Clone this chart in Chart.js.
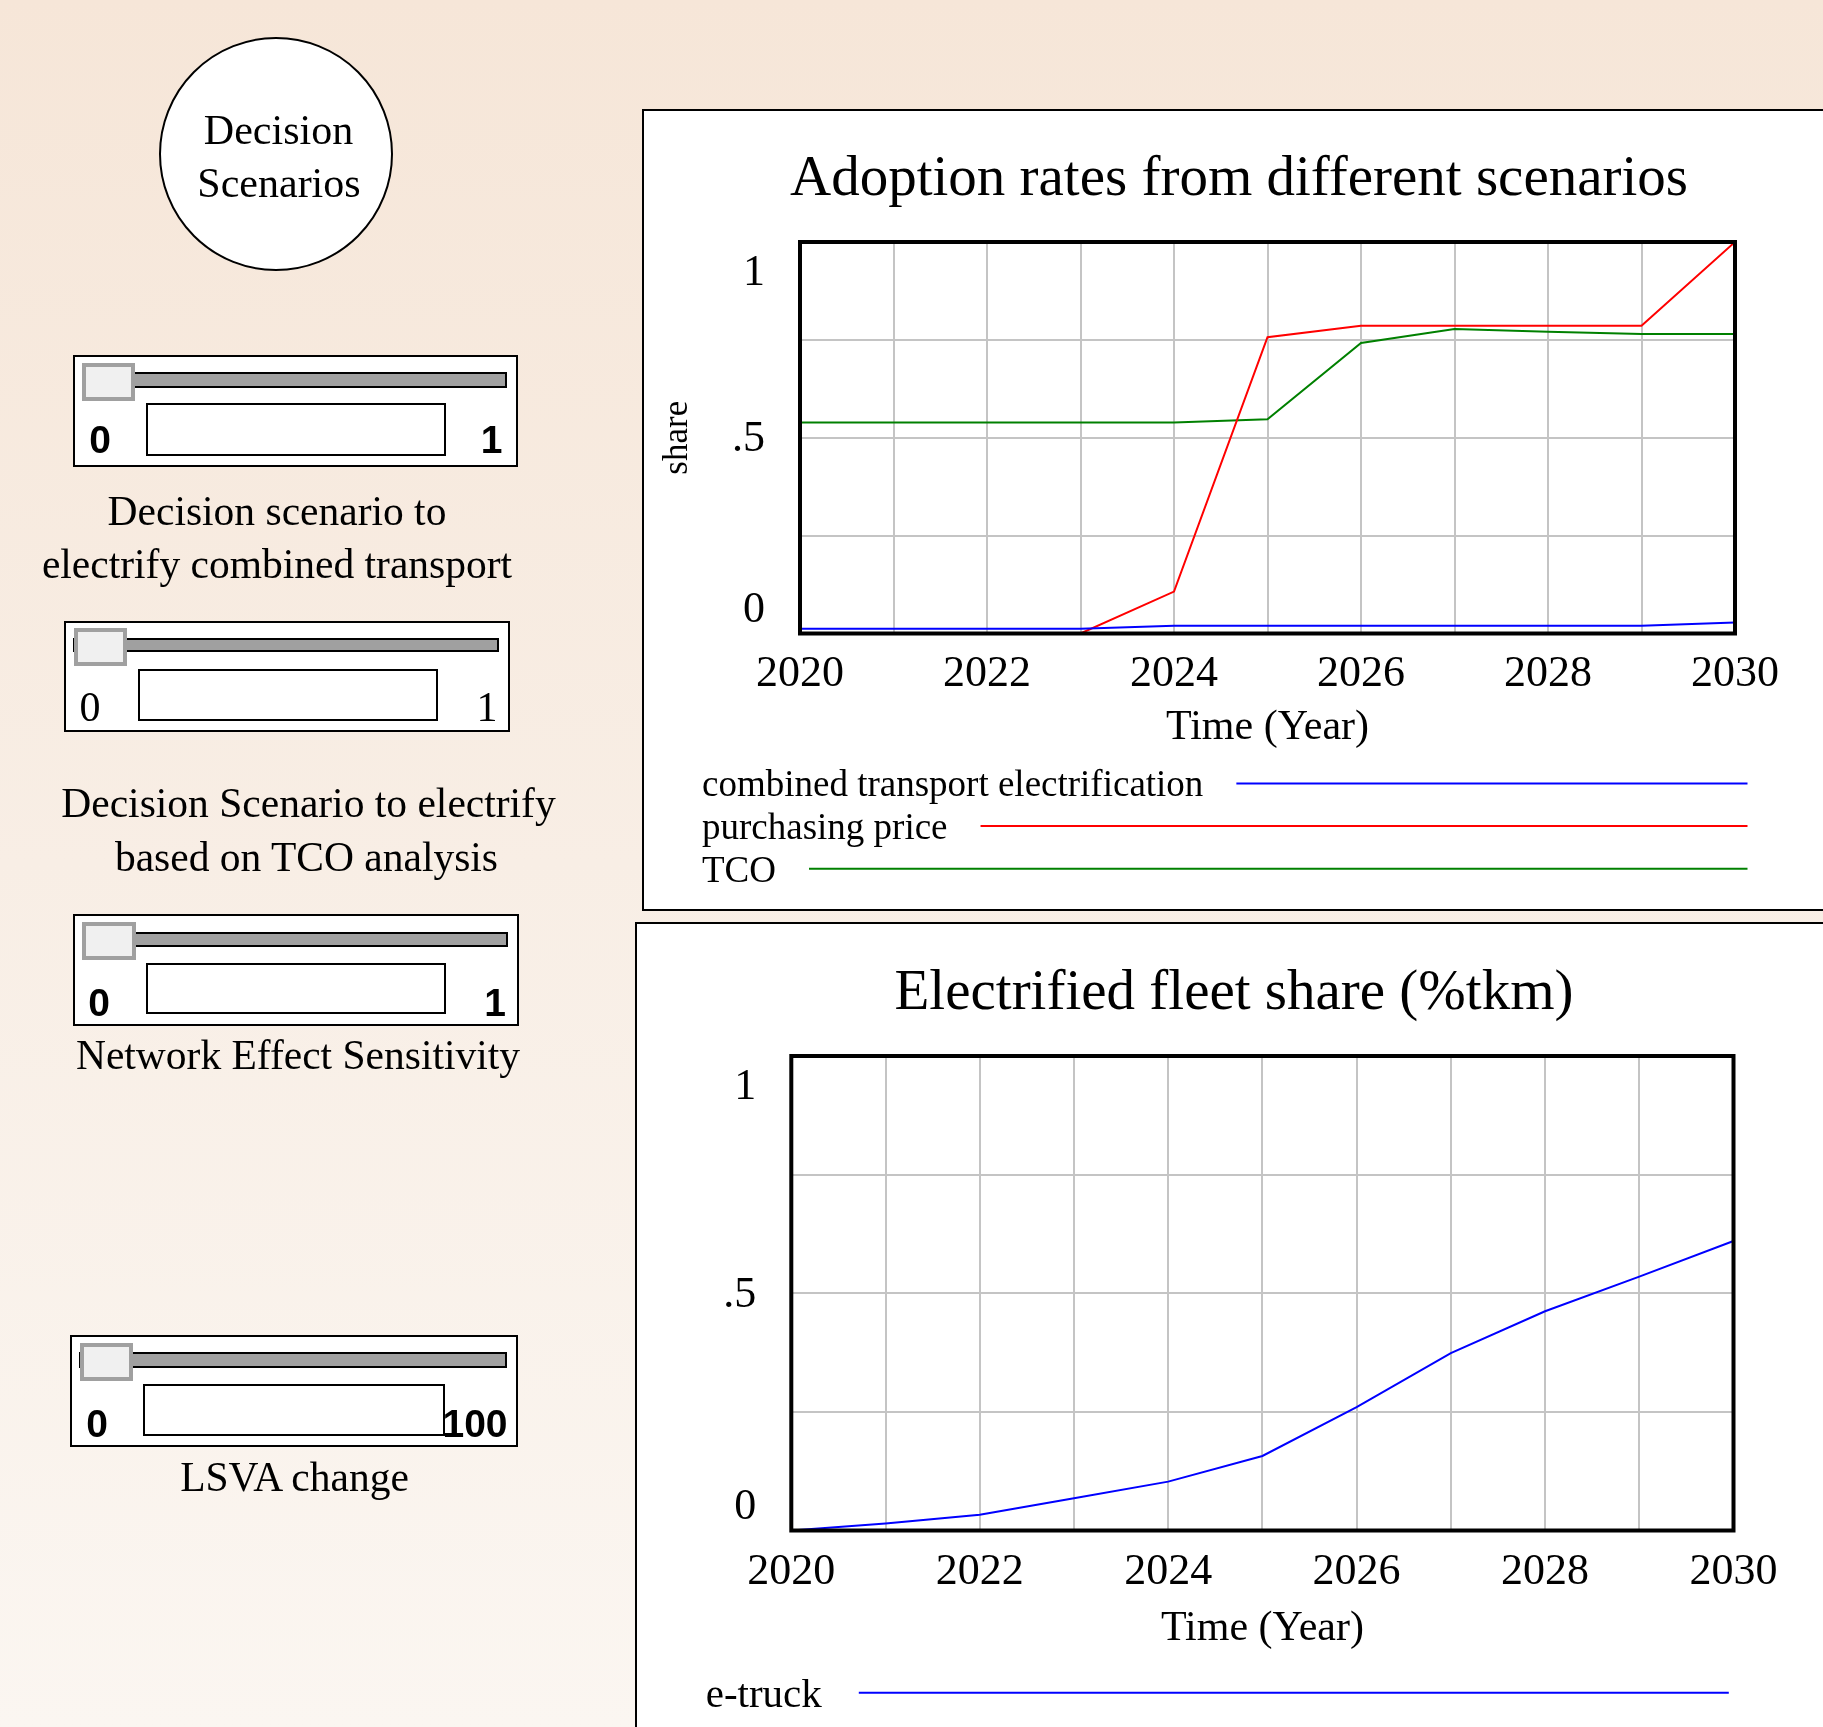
<!DOCTYPE html>
<html>
<head>
<meta charset="utf-8">
<script src="https://cdn.jsdelivr.net/npm/chart.js@4.4.1/dist/chart.umd.min.js"></script>
<style>
  html, body { margin: 0; padding: 0; }
  body {
    width: 1823px; height: 1727px; overflow: hidden; position: relative;
    background: linear-gradient(to bottom, #f6e6d8 0%, #f8eee5 50%, #fbf6f1 100%);
    font-family: "Liberation Serif", "Times New Roman", serif;
  }
  .panel { position: absolute; background: #fff; border: 2px solid #000; box-sizing: border-box; }
  .box { position: absolute; box-sizing: border-box; }
  .txt { position: absolute; white-space: nowrap; text-align: center; color: #000; }
  canvas { position: absolute; }
</style>
</head>
<body>
<div class="panel" style="left:642px;top:109px;width:1220px;height:802px;"></div>
<div class="panel" style="left:635px;top:922px;width:1220px;height:900px;"></div>
<canvas id="adoption" width="1180" height="800" style="left:643px;top:110px;"></canvas>
<canvas id="fleet" width="1186" height="803" style="left:637px;top:924px;"></canvas>

<script>
// --- data ---
const years = [2020, 2021, 2022, 2023, 2024, 2025, 2026, 2027, 2028, 2029, 2030];
const xTickLabels = ["2020", "2022", "2024", "2026", "2028", "2030"];
const yTickValues = [0, 0.5, 1];
const yTickLabels = ["0", ".5", "1"];

const combinedTransport = [0.012, 0.012, 0.012, 0.012, 0.02, 0.02, 0.02, 0.02, 0.02, 0.02, 0.028];
const purchasingPrice = [0, 0, 0, 0, 0.107, 0.757, 0.786, 0.786, 0.786, 0.786, 1.0];
const tco = [0.539, 0.539, 0.539, 0.539, 0.539, 0.547, 0.742, 0.778, 0.771, 0.765, 0.765];
const eTruck = [0, 0.015, 0.033, 0.068, 0.103, 0.157, 0.26, 0.374, 0.462, 0.535, 0.61];

const SERIF = '"Liberation Serif", "Times New Roman", serif';
const SANS = '"Liberation Sans", Arial, sans-serif';

// --- left side: scenario circle and sliders (plain html) ---
function addText(txt, cx, baseline, size, family, weight, asc) {
  const d = document.createElement("div");
  d.className = "txt";
  d.textContent = txt;
  d.style.left = (cx - 400) + "px";
  d.style.width = "800px";
  d.style.top = (baseline - asc * size) + "px";
  d.style.font = (weight || "normal") + " " + size + "px/" + size + "px " + family;
  document.body.appendChild(d);
}
function addBox(r, css) {
  const d = document.createElement("div");
  d.className = "box";
  d.style.left = r[0] + "px";
  d.style.top = r[1] + "px";
  d.style.width = (r[2] - r[0]) + "px";
  d.style.height = (r[3] - r[1]) + "px";
  d.style.cssText += css;
  document.body.appendChild(d);
}

const circle = document.createElement("div");
circle.className = "box";
circle.style.cssText += "left:159px;top:37px;width:234px;height:234px;border:2px solid #000;border-radius:50%;background:#fff;";
document.body.appendChild(circle);
addText("Decision", 278.5, 144, 42, SERIF, "normal", 0.8375);
addText("Scenarios", 279, 197.5, 42, SERIF, "normal", 0.8375);

const sliders = [
  { box: [73, 355, 518, 467], track: [82, 372, 507, 388], thumb: [82, 363, 135, 401], val: [146, 403, 446, 456],
    lo: "0", hi: "1", bold: true, loX: 100, hiX: 491.5, base: 453 },
  { box: [64, 621, 510, 732], track: [73, 638, 499, 652], thumb: [74, 628, 127, 666], val: [138, 669, 438, 721],
    lo: "0", hi: "1", bold: false, loX: 90, hiX: 487, base: 721 },
  { box: [73, 914, 519, 1026], track: [82, 932, 508, 947], thumb: [82, 922, 136, 960], val: [146, 963, 446, 1014],
    lo: "0", hi: "1", bold: true, loX: 99, hiX: 495, base: 1016 },
  { box: [70, 1335, 518, 1447], track: [79, 1352, 507, 1368], thumb: [80, 1343, 133, 1381], val: [143, 1384, 445, 1436],
    lo: "0", hi: "100", bold: true, loX: 97, hiX: 475, base: 1437 }
];
sliders.forEach(s => {
  addBox(s.box, "background:#fff;border:2px solid #000;");
  addBox(s.track, "background:#a0a0a0;border:2px solid #000;");
  addBox(s.thumb, "background:#f0f0f0;border:4px solid #a0a0a0;");
  addBox(s.val, "background:#fff;border:2px solid #000;");
  if (s.bold) {
    addText(s.lo, s.loX, s.base, 39, SANS, "bold", 0.8465);
    addText(s.hi, s.hiX, s.base, 39, SANS, "bold", 0.8465);
  } else {
    addText(s.lo, s.loX, s.base, 42, SERIF, "normal", 0.8375);
    addText(s.hi, s.hiX, s.base, 42, SERIF, "normal", 0.8375);
  }
});

const sliderLabels = [
  ["Decision scenario to", 277, 526],
  ["electrify combined transport", 277, 578.5],
  ["Decision Scenario to electrify", 308.5, 818],
  ["based on TCO analysis", 306.5, 871.5],
  ["Network Effect Sensitivity", 298, 1070],
  ["LSVA change", 294.5, 1491.5]
];
sliderLabels.forEach(([t, x, b]) => addText(t, x, b, 41.5, SERIF, "normal", 0.8375));

// --- charts ---
// frame, y labels, title and the line legend in the Vensim style
const vensimDecor = {
  id: "vensimDecor",
  afterDraw(chart, args, opts) {
    const { ctx, chartArea: a } = chart;
    const yScale = chart.scales.y;
    ctx.save();
    ctx.lineWidth = 4;
    ctx.strokeStyle = "#000";
    ctx.strokeRect(a.left, a.top, a.right - a.left, a.bottom - a.top);

    ctx.fillStyle = "#000";
    ctx.font = "44px " + SERIF;
    ctx.textAlign = "right";
    ctx.textBaseline = "middle";
    yTickValues.forEach((v, i) => {
      let py = yScale.getPixelForValue(v) + 2;
      if (v === yScale.max) py += 29;
      if (v === yScale.min) py -= 25;
      ctx.fillText(yTickLabels[i], a.left - 35, py);
    });

    ctx.textAlign = "center";
    ctx.font = "57px " + SERIF;
    ctx.fillText(opts.title, chart.width / 2 + opts.titleDx, opts.titleY);

    if (opts.yTitle) {
      ctx.save();
      ctx.translate(opts.yTitleX, (a.top + a.bottom) / 2);
      ctx.rotate(-Math.PI / 2);
      ctx.font = "35px " + SERIF;
      ctx.fillText(opts.yTitle, 0, 0);
      ctx.restore();
    }

    ctx.font = opts.legendFont + "px " + SERIF;
    ctx.textAlign = "left";
    chart.data.datasets.forEach((ds, i) => {
      const ly = opts.legendRows[i];
      ctx.fillStyle = "#000";
      ctx.fillText(ds.label, opts.legendX, ly + 3);
      const start = opts.legendX + ctx.measureText(ds.label).width + opts.legendGap;
      ctx.strokeStyle = ds.borderColor;
      ctx.lineWidth = 2;
      ctx.beginPath();
      ctx.moveTo(start, ly);
      ctx.lineTo(opts.legendEnd, ly);
      ctx.stroke();
    });
    ctx.restore();
  }
};

function series(label, values, color) {
  return {
    label: label,
    data: years.map((yr, i) => ({ x: yr, y: values[i] })),
    borderColor: color,
    borderWidth: 2,
    pointRadius: 0,
    fill: false,
    tension: 0
  };
}

function makeChart(id, datasets, geo, decor) {
  const ctx = document.getElementById(id).getContext("2d");
  return new Chart(ctx, {
    type: "line",
    data: { datasets: datasets },
    plugins: [vensimDecor],
    options: {
      responsive: false,
      animation: false,
      layout: { padding: { top: 132, right: geo.right, bottom: geo.bottom, left: 0 } },
      plugins: {
        legend: { display: false },
        tooltip: { enabled: false },
        vensimDecor: decor
      },
      scales: {
        x: {
          type: "linear",
          min: 2020,
          max: 2030,
          ticks: {
            stepSize: 1,
            autoSkip: false,
            maxRotation: 0,
            padding: geo.tickPad,
            color: "#000",
            font: { family: SERIF, size: 44 },
            callback: v => (xTickLabels.includes(String(v)) ? String(v) : "")
          },
          grid: { color: "#c4c4c4", lineWidth: 2, drawTicks: false },
          border: { display: false },
          title: {
            display: true,
            text: "Time (Year)",
            color: "#000",
            font: { family: SERIF, size: 42 },
            padding: { top: 0, bottom: geo.titlePad }
          },
          afterFit: s => { s.height = 140; }
        },
        y: {
          min: 0,
          max: 1,
          ticks: { stepSize: 0.25, display: false },
          grid: { color: "#c4c4c4", lineWidth: 2, drawTicks: false },
          border: { display: false },
          afterFit: s => { s.width = geo.yWidth; }
        }
      }
    }
  });
}

makeChart("adoption", [
  series("combined transport electrification", combinedTransport, "#0000ff"),
  series("purchasing price", purchasingPrice, "#ff0000"),
  series("TCO", tco, "#008000")
], { right: 88, bottom: 136.5, tickPad: 15, titlePad: 20.3, yWidth: 157 }, {
  title: "Adoption rates from different scenarios",
  titleDx: 6, titleY: 70,
  yTitle: "share", yTitleX: 35,
  legendX: 59, legendRows: [673.6, 716, 758.8], legendEnd: 1104.5, legendGap: 33, legendFont: 37
});

makeChart("fleet", [
  series("e-truck", eTruck, "#0000ff")
], { right: 89.5, bottom: 56.5, tickPad: 16, titlePad: 16.8, yWidth: 154.3 }, {
  title: "Electrified fleet share (%tkm)",
  titleDx: 4, titleY: 70.5,
  legendX: 68.7, legendRows: [768.8], legendEnd: 1091.8, legendGap: 37, legendFont: 41
});
</script>
</body>
</html>
